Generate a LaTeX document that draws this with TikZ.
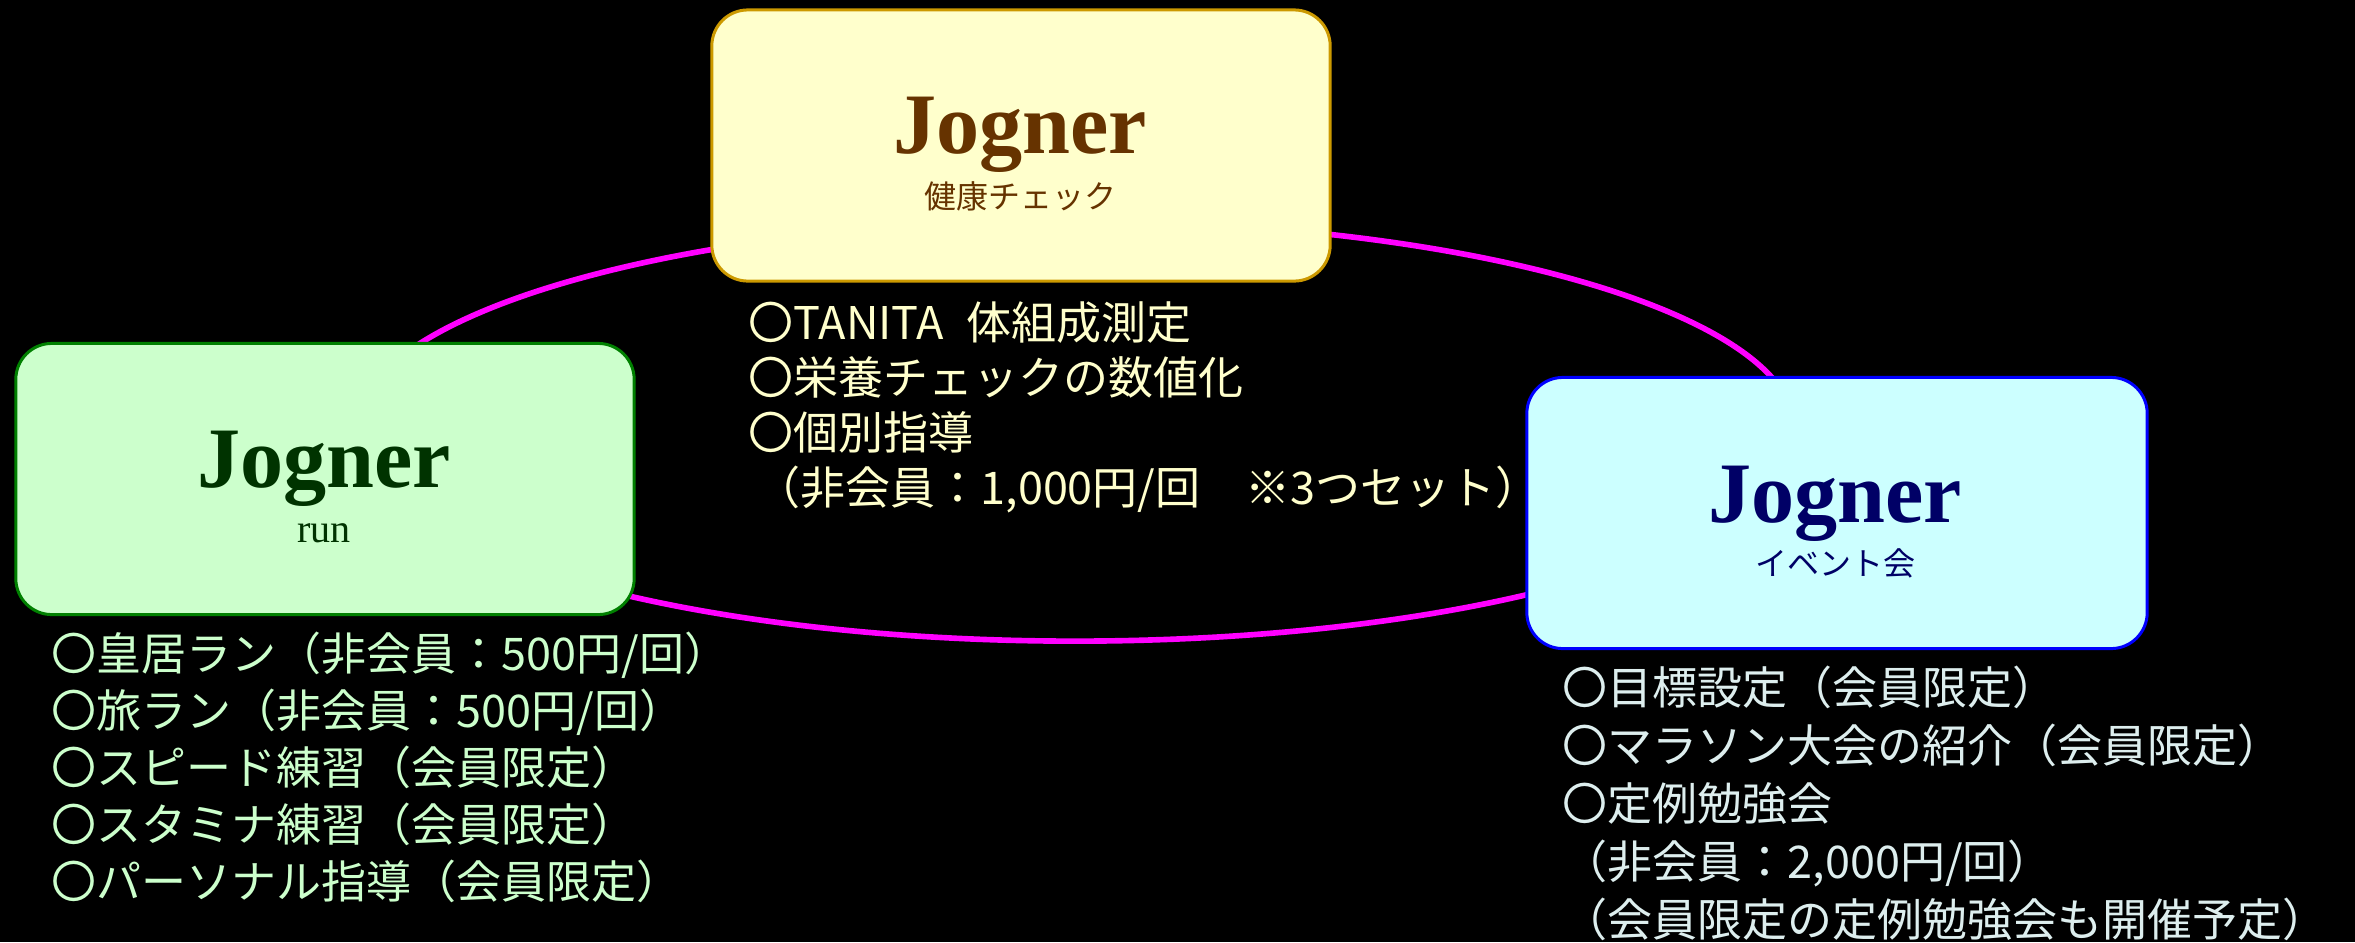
\documentclass[tikz,border=0pt]{standalone}
\usepackage{fontspec}
\setmainfont{Liberation Serif}
\newfontfamily\jp{Noto Sans CJK JP}
\usetikzlibrary{shapes.geometric}
\definecolor{ringc}{HTML}{FF00FF}
\definecolor{topfill}{HTML}{FFFFCC}
\definecolor{topdraw}{HTML}{CC9900}
\definecolor{toptext}{HTML}{663300}
\definecolor{leftfill}{HTML}{CCFFCC}
\definecolor{leftdraw}{HTML}{008000}
\definecolor{lefttext}{HTML}{003300}
\definecolor{rightfill}{HTML}{CCFFFF}
\definecolor{rightdraw}{HTML}{0000FF}
\definecolor{righttext}{HTML}{000066}
\definecolor{toplist}{HTML}{FFFFCC}
\definecolor{leftlist}{HTML}{CCFFCC}
\definecolor{rightlist}{HTML}{DDEEEE}
\begin{document}
\begin{tikzpicture}[x=0.01cm,y=-0.01cm,
  panel/.style={draw, line width=0.85pt, rounded corners=0.36cm, minimum width=6.18cm, minimum height=2.71cm, inner sep=0},
  brand/.style={anchor=base, inner sep=0, font=\bfseries\fontsize{24.5}{28}\selectfont},
  subjp/.style={anchor=base, inner sep=0, font=\jp\fontsize{9.1}{11}\selectfont},
  item/.style={anchor=base west, inner sep=0, font=\jp\fontsize{12.8}{15}\selectfont},
]
\fill[black] (0,0) rectangle (2355,942);
\useasboundingbox (0,0) rectangle (2355,942);
% ring
\node[ellipse, draw=ringc, line width=1.6pt, minimum width=14.4cm, minimum height=4.2cm, inner sep=0] (ring) at (1075,431) {};
% panels
\node[panel, fill=topfill, draw=topdraw] (health) at (1021,145.5) {};
\node[panel, fill=leftfill, draw=leftdraw] (run) at (325,479) {};
\node[panel, fill=rightfill, draw=rightdraw, minimum width=6.2cm] (event) at (1837,513) {};
% titles
\node[brand, text=toptext] (healthT) at (1020,153) {Jogner};
\node[subjp, text=toptext] (healthS) at (1020,208) {健康チェック};
\node[brand, text=lefttext] (runT) at (324,487) {Jogner};
\node[anchor=base, inner sep=0, font=\fontsize{11.4}{13}\selectfont, text=lefttext] (runS) at (324,542) {run};
\node[brand, text=righttext] (eventT) at (1835,522) {Jogner};
\node[subjp, text=righttext] (eventS) at (1835,575) {イベント会};
% lists
\foreach \t [count=\i] in {{〇TANITA\hspace{0.5em}体組成測定},{〇栄養チェックの数値化},{〇個別指導},{\hspace{0.15em}（非会員：1,000円/回　※3つセット）}}
  \node[item, text=toplist] (h\i) at (748,{339+55*(\i-1)}) {\t};
\foreach \t [count=\i] in {{〇皇居ラン（非会員：500円/回）},{〇旅ラン（非会員：500円/回）},{〇スピード練習（会員限定）},{〇スタミナ練習（会員限定）},{〇パーソナル指導（会員限定）}}
  \node[item, text=leftlist] (r\i) at (51,{670+57*(\i-1)}) {\t};
\foreach \t [count=\i] in {{〇目標設定（会員限定）},{〇マラソン大会の紹介（会員限定）},{〇定例勉強会},{（非会員：2,000円/回）},{（会員限定の定例勉強会も開催予定）}}
  \node[item, text=rightlist] (e\i) at (1562,{704+58*(\i-1)}) {\t};
\end{tikzpicture}
\end{document}
